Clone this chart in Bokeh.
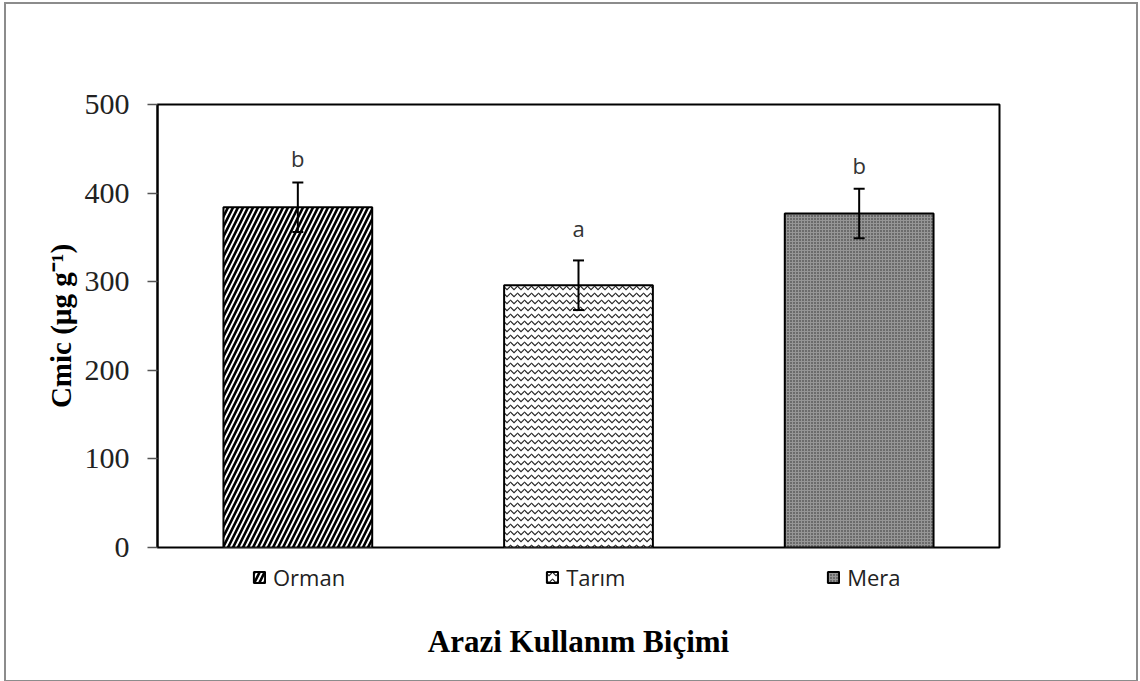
from bokeh.plotting import figure
from bokeh.layouts import column
from bokeh.models import (ColumnDataSource, FactorRange, Range1d, FixedTicker, Whisker,
                          TeeHead, LabelSet, Legend, LegendItem, CategoricalAxis, Spacer)
from bokeh.core.properties import value
from bokeh.embed import file_html
from bokeh.resources import INLINE

categories = ["Orman", "Tarım", "Mera"]
means = [384, 296, 377]
errors = [28, 28, 28]
letters = ["b", "a", "b"]
letter_y = [429, 350, 422]
y_ticks = [0, 100, 200, 300, 400, 500]

lower = [m - e for m, e in zip(means, errors)]
upper = [m + e for m, e in zip(means, errors)]

src = ColumnDataSource(dict(cat=categories, val=means, lower=lower, upper=upper,
                            letter=letters, ly=letter_y))

xr = FactorRange(*categories, range_padding=0)

p = figure(width=1130, height=563, x_range=xr, y_range=Range1d(0, 500),
           output_backend="svg", toolbar_location=None, x_axis_location=None)
p.frame_width = 842
p.frame_height = 443
p.min_border_left = 151
p.min_border_right = 137
p.min_border_top = 100
p.min_border_bottom = 20

p.xgrid.visible = False
p.ygrid.visible = False
p.outline_line_color = "black"
p.outline_line_width = 2

hatches = [
    dict(fill_color="white", hatch_pattern="right_diagonal_line", hatch_scale=10,
         hatch_weight=2.6, hatch_color="black"),
    dict(fill_color="white", hatch_pattern="horizontal_wave", hatch_scale=7,
         hatch_weight=1.1, hatch_color="#222222"),
    dict(fill_color="#969696", hatch_pattern="dot", hatch_scale=3,
         hatch_weight=1, hatch_color="#2a2a2a"),
]

# second strip: legend + x-axis title
p2 = figure(width=1130, height=94, x_range=xr, y_range=Range1d(0, 1),
            output_backend="svg", toolbar_location=None, y_axis_location=None,
            x_axis_location=None)
p2.frame_width = 842
p2.min_border_left = 151
p2.min_border_right = 137
p2.min_border_top = 0
p2.min_border_bottom = 0
p2.outline_line_color = None
p2.xgrid.visible = False
p2.ygrid.visible = False

items = []
for i, cat in enumerate(categories):
    s = ColumnDataSource(dict(cat=[cat], val=[means[i]]))
    p.vbar(x="cat", top="val", width=0.53, source=s, line_color="black",
           line_width=2, **hatches[i])
    r2 = p2.vbar(x="cat", top="val", width=0.53, source=s, line_color="black",
                 line_width=2, visible=False, **hatches[i])
    items.append(LegendItem(label=cat, renderers=[r2]))

wh = Whisker(source=src, base="cat", upper="upper", lower="lower", dimension="height",
             line_color="black", line_width=2, level="overlay",
             upper_head=TeeHead(size=11, line_color="black", line_width=2),
             lower_head=TeeHead(size=11, line_color="black", line_width=2))
p.add_layout(wh)

labels = LabelSet(x="cat", y="ly", text="letter", source=src, text_align="center",
                  text_baseline="alphabetic", text_font=value("Open Sans"),
                  text_font_size="22px", text_color="#333333")
p.add_layout(labels)

p.yaxis.ticker = FixedTicker(ticks=y_ticks)
p.yaxis.major_tick_out = 10
p.yaxis.major_tick_in = 0
p.yaxis.minor_tick_out = 0
p.yaxis.minor_tick_in = 0
p.yaxis.major_tick_line_color = "#555555"
p.yaxis.major_tick_line_width = 1.5
p.yaxis.axis_line_color = "black"
p.yaxis.axis_line_width = 2
p.yaxis.major_label_standoff = 18
p.yaxis.major_label_text_font = "Liberation Serif"
p.yaxis.major_label_text_font_size = "30px"
p.yaxis.major_label_text_color = "#222222"
p.yaxis.axis_label = "Cmic (µg g⁻¹)"
p.yaxis.axis_label_text_font = "Liberation Serif"
p.yaxis.axis_label_text_font_size = "29px"
p.yaxis.axis_label_text_font_style = "bold"
p.yaxis.axis_label_text_color = "black"
p.yaxis.axis_label_standoff = 5

legend = Legend(items=items, orientation="horizontal", location=(95, 8),
                glyph_width=14, glyph_height=14, label_standoff=7, label_width=60,
                spacing=200, padding=0, margin=0, border_line_color=None,
                background_fill_alpha=0, inactive_fill_alpha=0,
                label_text_font="Open Sans",
                label_text_font_size="22px", label_text_color="#222222")
p2.add_layout(legend)

xax = CategoricalAxis(axis_label="Arazi Kullanım Biçimi", ticker=FixedTicker(ticks=[]))
xax.major_tick_out = 0
xax.major_tick_in = 0
xax.axis_line_color = None
xax.major_tick_line_color = None
xax.major_label_standoff = 0
xax.axis_label_standoff = 23
xax.axis_label_text_font = "Liberation Serif"
xax.axis_label_text_font_size = "31px"
xax.axis_label_text_font_style = "bold"
xax.axis_label_text_color = "black"
p2.add_layout(xax, "below")

layout = column(p, p2, Spacer(width=1130, height=19), spacing=0,
                styles={"border": "2px solid #8c8c8c", "margin-left": "4px",
                        "margin-top": "2px"})

open("out.html", "w").write(file_html(layout, INLINE))
